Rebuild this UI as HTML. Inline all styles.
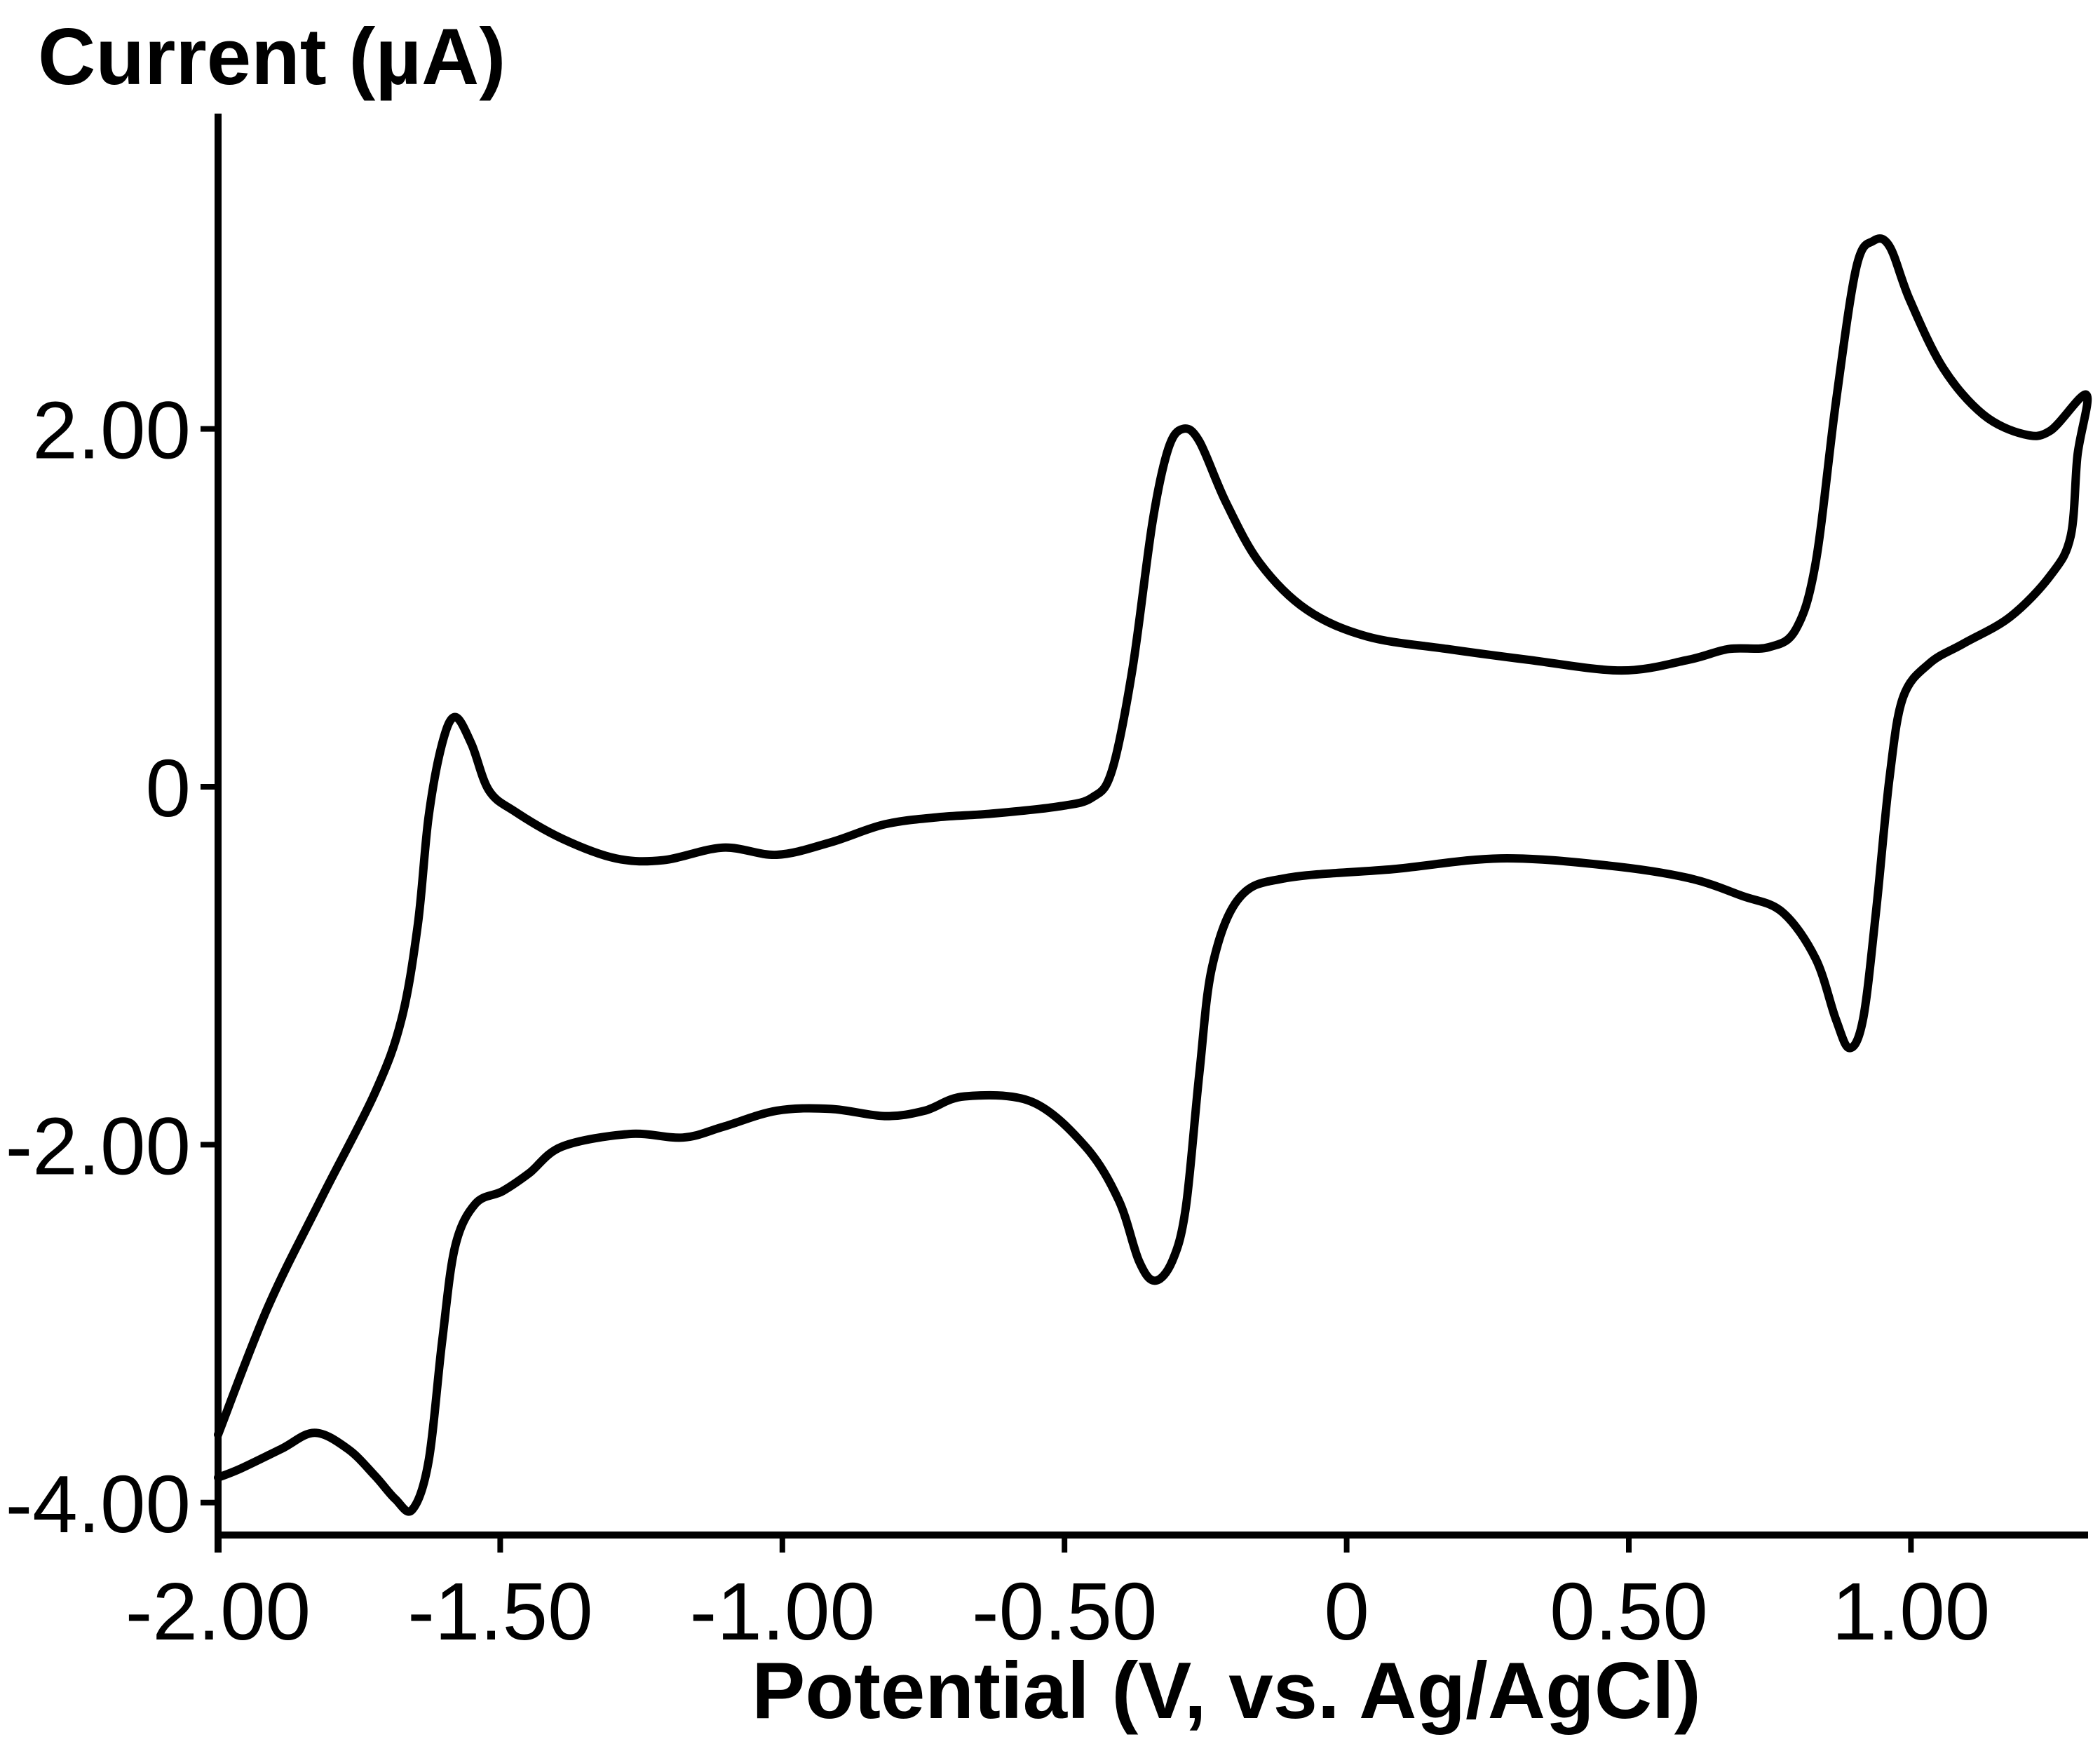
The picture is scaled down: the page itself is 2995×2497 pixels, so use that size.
<!DOCTYPE html>
<html><head><meta charset="utf-8"><style>
html,body{margin:0;padding:0;background:#fff;}
svg{display:block;}
text{font-family:"Liberation Sans",Arial,sans-serif;fill:#000;}
</style></head><body>
<svg id="chart" width="2995" height="2497" viewBox="0 0 2995 2497" xmlns="http://www.w3.org/2000/svg">
<g id="axes"></g>
<path id="cv" fill="none" stroke="#000" stroke-width="12" stroke-linejoin="round" stroke-linecap="round"/>
<text x="54" y="120" font-size="114" font-weight="bold">Current (µA)</text>
<text x="1749" y="2450" font-size="114" font-weight="bold" text-anchor="middle">Potential (V, vs. Ag/AgCl)</text>
</svg>
<script>
const xTicks=[-2,-1.5,-1,-0.5,0,0.5,1];
const xTickLabels=["-2.00","-1.50","-1.00","-0.50","0","0.50","1.00"];
const yTicks=[2,0,-2,-4];
const yTickLabels=["2.00","0","-2.00","-4.00"];
const potential=[-2.00,-1.912,-1.817,-1.722,-1.675,-1.646,-1.627,-1.603,-1.580,-1.551,-1.520,-1.473,-1.390,-1.295,-1.211,-1.105,-1.010,-0.914,-0.819,-0.724,-0.629,-0.511,-0.451,-0.416,-0.380,-0.344,-0.316,-0.290,-0.261,-0.214,-0.154,-0.071,0.036,0.178,0.321,0.487,0.606,0.677,0.748,0.796,0.831,0.867,0.903,0.933,0.962,0.998,1.057,1.128,1.200,1.247,1.311,
1.295,1.283,1.247,1.176,1.093,1.033,0.986,0.962,0.938,0.915,0.891,0.867,0.831,0.772,0.701,0.606,0.463,0.273,0.083,-0.107,-0.190,-0.238,-0.261,-0.285,-0.309,-0.340,-0.368,-0.404,-0.463,-0.558,-0.677,-0.748,-0.819,-0.914,-1.010,-1.105,-1.176,-1.271,-1.390,-1.449,-1.496,-1.544,-1.580,-1.603,-1.627,-1.656,-1.686,-1.722,-1.770,-1.829,-1.888,-1.960,-2.00];
const current=[-3.62,-2.91,-2.30,-1.71,-1.30,-0.77,-0.17,0.24,0.39,0.24,-0.02,-0.14,-0.29,-0.40,-0.41,-0.34,-0.38,-0.31,-0.21,-0.17,-0.15,-0.11,-0.06,0.09,0.65,1.48,1.89,2.00,1.93,1.59,1.25,0.99,0.84,0.77,0.71,0.65,0.71,0.77,0.78,0.88,1.25,2.15,2.90,3.05,3.02,2.72,2.34,2.08,1.97,1.99,2.19,
1.85,1.40,1.18,0.95,0.80,0.69,0.50,0.05,-0.70,-1.30,-1.46,-1.30,-0.96,-0.70,-0.61,-0.51,-0.44,-0.40,-0.46,-0.51,-0.62,-1.00,-1.60,-2.35,-2.65,-2.76,-2.65,-2.31,-2.01,-1.76,-1.73,-1.81,-1.84,-1.80,-1.81,-1.90,-1.96,-1.94,-2.01,-2.16,-2.26,-2.33,-2.57,-3.10,-3.77,-4.04,-3.98,-3.85,-3.70,-3.61,-3.70,-3.81,-3.86];
const X0=311, PXV=804.8, Y0=1122, PXI=255.2;
function sx(v){return X0+(v+2)*PXV;}
function sy(i){return Y0-i*PXI;}
const NS="http://www.w3.org/2000/svg";
const axes=document.getElementById('axes');
function mk(tag,attrs){const e=document.createElementNS(NS,tag);for(const k in attrs)e.setAttribute(k,attrs[k]);return e;}
const ya=mk('line',{x1:311,y1:162,x2:311,y2:2214,stroke:'#000','stroke-width':10});


axes.appendChild(ya);
const xa=mk('line',{x1:306,y1:2189,x2:2978,y2:2189,stroke:'#000','stroke-width':10});


axes.appendChild(xa);
xTicks.forEach((v,k)=>{
  const t=mk('line',{x1:sx(v),y1:2189,x2:sx(v),y2:2214,stroke:'#000','stroke-width':8});
  
  
  axes.appendChild(t);
  const l=mk('text',{x:sx(v),y:2338,'font-size':116,'text-anchor':'middle'});
  
  
  l.textContent=xTickLabels[k];axes.appendChild(l);
});
yTicks.forEach((v,k)=>{
  const t=mk('line',{x1:286,y1:sy(v),x2:311,y2:sy(v),stroke:'#000','stroke-width':8});
  
  
  axes.appendChild(t);
  const l=mk('text',{x:272,y:sy(v)+42,'font-size':116,'text-anchor':'end'});
  
  
  l.textContent=yTickLabels[k];axes.appendChild(l);
});
const P=potential.map((v,i)=>[sx(v),sy(current[i])]);
let d='M'+P[0][0]+','+P[0][1];
for(let i=0;i<P.length-1;i++){
  const p0=P[Math.max(0,i-1)],p1=P[i],p2=P[i+1],p3=P[Math.min(P.length-1,i+2)];
  const c1=[p1[0]+(p2[0]-p0[0])/6,p1[1]+(p2[1]-p0[1])/6];
  const c2=[p2[0]-(p3[0]-p1[0])/6,p2[1]-(p3[1]-p1[1])/6];
  d+=' C'+c1.join(',')+' '+c2.join(',')+' '+p2.join(',');
}
document.getElementById('cv').setAttribute('d',d);
</script>
</body></html>
